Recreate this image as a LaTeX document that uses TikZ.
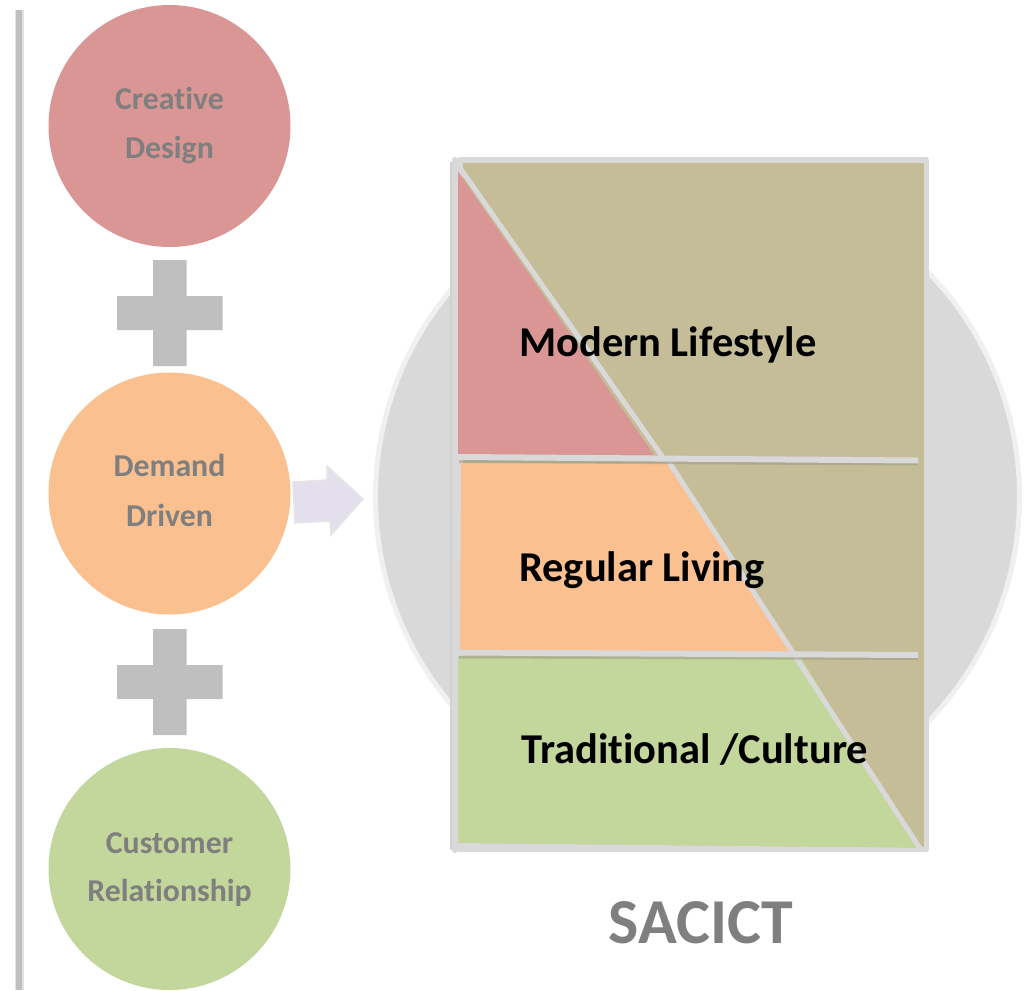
\documentclass[tikz,border=0pt]{standalone}
\usepackage{fontspec}
\setmainfont[Ligatures=NoCommon]{Carlito}
\definecolor{rosec}{HTML}{D99694}
\definecolor{peachc}{HTML}{FAC090}
\definecolor{greenc}{HTML}{C3D69B}
\definecolor{khakic}{HTML}{C4BD97}
\definecolor{plusc}{HTML}{BFBFBF}
\definecolor{bigc}{HTML}{D9D9D9}
\definecolor{edgec}{HTML}{F0F0F0}
\definecolor{linec}{HTML}{D9D9D9}
\definecolor{shadec}{HTML}{9A9A88}
\definecolor{txtc}{HTML}{7F7F7F}
\definecolor{arrowc}{HTML}{E4DFEC}
\tikzset{
  x=1pt,y=-1pt,
  disc/.style={circle,draw=none,minimum size=242pt,inner sep=0pt},
  plusmark/.style={fill=plusc,draw=none},
  sidelabel/.style={anchor=base,text=txtc,font=\fontsize{31.8}{32}\selectfont\bfseries,inner sep=0pt},
  bandlabel/.style={anchor=base west,text=black,font=\fontsize{42.5}{43}\selectfont\bfseries,inner sep=0pt},
  rule/.style={draw=linec,line width=6pt},
  softshade/.style={draw=shadec,line width=3pt,opacity=.55},
}
\begin{document}
\begin{tikzpicture}
\useasboundingbox (0,0) rectangle (1027,990);
% left rule
\fill[plusc!45] (14.5,10) rectangle (24,990);
\fill[plusc] (16,10) rectangle (22,990);
% discs
\node[disc,fill=rosec] (cd) at (169.5,126) {};
\node[disc,fill=peachc] (dd) at (169.5,493.5) {};
\node[disc,fill=greenc] (cr) at (169.5,869) {};
\node[sidelabel] (cd1) at (169.5,109.5) {Creative};
\node[sidelabel] (cd2) at (169.5,158.5) {Design};
\node[sidelabel] (dd1) at (169.5,476.5) {Demand};
\node[sidelabel] (dd2) at (169.5,526.5) {Driven};
\node[sidelabel] (cr1) at (169.5,853.5) {Customer};
\node[sidelabel] (cr2) at (169.5,901.5) {Relationship};
% plus signs
\fill[plusmark] (153,260) -- (186.5,260) -- (186.5,296) -- (222.5,296) -- (222.5,330) -- (186.5,330) -- (186.5,366) -- (153,366) -- (153,330) -- (117,330) -- (117,296) -- (153,296) -- cycle;
\fill[plusmark] (153,629) -- (186.5,629) -- (186.5,665) -- (222.5,665) -- (222.5,699) -- (186.5,699) -- (186.5,735) -- (153,735) -- (153,699) -- (117,699) -- (117,665) -- (153,665) -- cycle;
% big circle
\fill[bigc,draw=edgec,line width=5pt] (697.5,497) circle (322);
% arrow
\filldraw[fill=arrowc,draw=edgec!90!gray,line width=1.5pt,line join=miter] (293,482) -- (327,480) -- (327,466) -- (363,499) -- (331,535) -- (330,521) -- (295,523) -- cycle;
% panel
\filldraw[fill=khakic,draw=linec,line width=5.5pt,line join=round] (460,160) rectangle (926.5,849.5);
% wedge bands
\fill[rosec] (457,170) -- (654,455) -- (457,455) -- cycle;
\fill[peachc] (461,463) -- (669,463) -- (796,652) -- (460,652) -- cycle;
\fill[greenc] (457,656) -- (800,656) -- (917,848) -- (457,843) -- cycle;
% diagonal
\draw[rule,line width=5pt] (458,165) -- (664,459);
\draw[rule,line width=5pt] (669,462) -- (921,850);
% bottom wedge edge
\draw[rule,line width=4pt] (458,845) -- (925,850);
% band rules
\draw[softshade] (459,461.5) -- (918,464);
\draw[softshade] (459,657) -- (918,658.5);
\draw[rule] (458,457) -- (918,460.5);
\draw[rule] (458,652.5) -- (918,655);
% left panel edge
\fill[plusc!70] (450,162) rectangle (452.5,850);
\draw[rule,line cap=round,line width=6pt] (455,160) -- (455,850);
% labels
\node[bandlabel] (ml) at (519,356.5) {Modern Lifestyle};
\node[bandlabel] (rl) at (519,581.5) {Regular Living};
\node[bandlabel] (tc) at (521,763.5) {Traditional /Culture};
\node[anchor=base,text=txtc,font=\fontsize{64}{64}\selectfont\bfseries,inner sep=0pt] (sa) at (701,943) {SACICT};
\end{tikzpicture}
\end{document}
